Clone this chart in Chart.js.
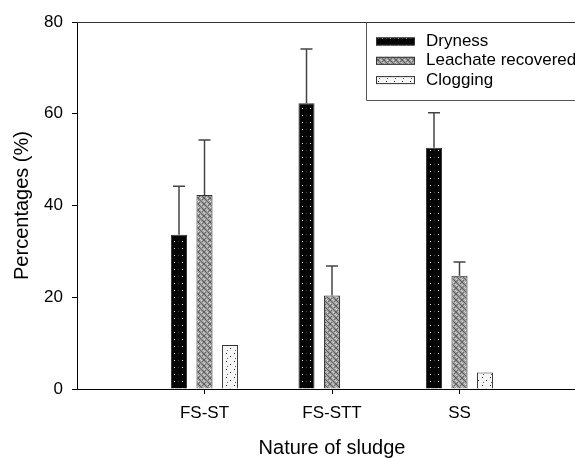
<!DOCTYPE html>
<html>
<head>
<meta charset="utf-8">
<script src="https://cdn.jsdelivr.net/npm/chart.js@4.4.1/dist/chart.umd.min.js"></script>
<style>
	html, body { margin: 0; padding: 0; background: #fff; overflow: hidden; }
	#wrap { position: relative; width: 587px; height: 458px; }
</style>
</head>
<body>
<div id="wrap"><canvas id="chart"></canvas></div>
<script>
// values
const categories = ['FS-ST', 'FS-STT', 'SS'];
const seriesNames = ['Dryness', 'Leachate recovered', 'Clogging'];
const dryness = [33.6, 62.3, 52.6];
const drynessErr = [10.6, 11.8, 7.6];
const leachate = [42.3, 20.4, 24.7];
const leachateErr = [12.0, 6.4, 3.0];
const clogging = [9.6, 0, 3.6];
const yTicks = [0, 20, 40, 60, 80];

const font = 'Liberation Sans, Arial, sans-serif';

/**
 * Small tiled fills, the printed figure uses hatched bars.
 */
function makePattern(w, h, bg, dots) {
	let c = document.createElement('canvas'),
		ctx = c.getContext('2d');

	c.width = w;
	c.height = h;
	ctx.fillStyle = bg;
	ctx.fillRect(0, 0, w, h);
	dots.forEach(function(d) {
		ctx.fillStyle = d[2];
		ctx.fillRect(d[0], d[1], 1, 1);
	});
	return ctx.createPattern(c, 'repeat');
}

let fills = {
	dryness: makePattern(8, 7, '#050505', [[2, 3, '#444'], [6, 3, '#eee']]),
	leachate: makePattern(6, 6, '#a0a0a0', [
		[0, 0, '#555'], [1, 1, '#5a5a5a'], [2, 2, '#606060'], [3, 3, '#606060'], [4, 4, '#5a5a5a'], [5, 5, '#555'],
		[5, 0, '#6a6a6a'], [4, 1, '#666'], [1, 4, '#666'], [0, 5, '#6a6a6a'],
		[3, 0, '#ddd'], [0, 3, '#ddd'], [5, 2, '#d0d0d0'], [2, 5, '#d0d0d0']
	]),
	clogging: makePattern(8, 8, '#f6f6f6', [[2, 1, '#222'], [6, 4, '#222'], [3, 6, '#666']])
};

let errorBars = {
	id: 'errorBars',
	afterDatasetsDraw: function(chart) {
		let ctx = chart.ctx,
			y = chart.scales.y;

		ctx.save();
		ctx.strokeStyle = '#444';
		ctx.lineWidth = 1.5;
		chart.data.datasets.forEach(function(ds, i) {
			if (!ds.errors) {
				return;
			}
			chart.getDatasetMeta(i).data.forEach(function(bar, j) {
				let top = y.getPixelForValue(ds.data[j].y + ds.errors[j]);

				ctx.beginPath();
				ctx.moveTo(bar.x, bar.y);
				ctx.lineTo(bar.x, top);
				ctx.moveTo(bar.x - 6, top);
				ctx.lineTo(bar.x + 6, top);
				ctx.stroke();
			});
		});
		ctx.restore();
	}
};

let frame = {
	id: 'frame',
	afterDraw: function(chart) {
		let ctx = chart.ctx,
			area = chart.chartArea,
			boxLeft = 366.5,
			boxBottom = 100.5;

		ctx.save();
		// top line of the plot frame
		ctx.strokeStyle = '#333';
		ctx.lineWidth = 1;
		ctx.beginPath();
		ctx.moveTo(area.left, area.top + 0.5);
		ctx.lineTo(area.right, area.top + 0.5);
		ctx.stroke();

		// legend box
		ctx.strokeStyle = '#555';
		ctx.beginPath();
		ctx.moveTo(boxLeft, area.top);
		ctx.lineTo(boxLeft, boxBottom);
		ctx.lineTo(chart.width, boxBottom);
		ctx.stroke();

		ctx.font = '17px ' + font;
		ctx.textBaseline = 'middle';
		ctx.textAlign = 'left';
		chart.data.datasets.forEach(function(ds, i) {
			let sy = 37.5 + i * 19.3;

			ctx.fillStyle = ds.backgroundColor;
			ctx.fillRect(376, sy, 39, 8);
			ctx.strokeStyle = '#333';
			ctx.strokeRect(376.5, sy + 0.5, 38, 7);
			ctx.fillStyle = '#000';
			ctx.fillText(ds.label, 426, sy + 4);
		});
		ctx.restore();
	}
};

function points(values) {
	return values.map(function(v, i) {
		return { x: i + 1, y: v };
	});
}

let bar = {
	borderColor: '#333',
	borderWidth: 1,
	categoryPercentage: 0.6,
	barPercentage: 0.63
};

new Chart(document.getElementById('chart'), {
	type: 'bar',
	data: {
		datasets: [
			Object.assign({ label: seriesNames[0], data: points(dryness), errors: drynessErr, backgroundColor: fills.dryness }, bar),
			Object.assign({ label: seriesNames[1], data: points(leachate), errors: leachateErr, backgroundColor: fills.leachate }, bar),
			Object.assign({ label: seriesNames[2], data: points(clogging), backgroundColor: fills.clogging }, bar)
		]
	},
	options: {
		responsive: true,
		maintainAspectRatio: false,
		animation: false,
		layout: { padding: { top: 22, right: 0, bottom: 0, left: 0 } },
		plugins: {
			legend: { display: false },
			tooltip: { enabled: false }
		},
		scales: {
			x: {
				type: 'linear',
				offset: false,
				min: 0,
				max: categories.length + 1,
				afterBuildTicks: function(s) {
					s.ticks = categories.map(function(c, i) {
						return { value: i + 1 };
					});
				},
				afterFit: function(s) {
					s.height = 69;
				},
				ticks: {
					autoSkip: false,
					maxRotation: 0,
					padding: 9,
					color: '#000',
					font: { family: font, size: 17 },
					callback: function(v) {
						return categories[v - 1];
					}
				},
				grid: { offset: false, drawOnChartArea: false, tickLength: 5, color: '#000' },
				border: { color: '#000', width: 1 },
				title: {
					display: true,
					text: 'Nature of sludge',
					color: '#000',
					font: { family: font, size: 20, lineHeight: 1 },
					padding: { top: 0, bottom: 0 }
				}
			},
			y: {
				min: yTicks[0],
				max: yTicks[yTicks.length - 1],
				afterBuildTicks: function(s) {
					s.ticks = yTicks.map(function(v) {
						return { value: v };
					});
				},
				afterFit: function(s) {
					s.width = 77;
				},
				ticks: {
					padding: 9,
					color: '#000',
					font: { family: font, size: 17 }
				},
				grid: { drawOnChartArea: false, tickLength: 5, color: '#000' },
				border: { color: '#000', width: 1 },
				title: {
					display: true,
					text: 'Percentages (%)',
					color: '#000',
					font: { family: font, size: 20, lineHeight: 1.2 },
					padding: { top: 10, bottom: 0 }
				}
			}
		}
	},
	plugins: [errorBars, frame]
});
</script>
</body>
</html>
